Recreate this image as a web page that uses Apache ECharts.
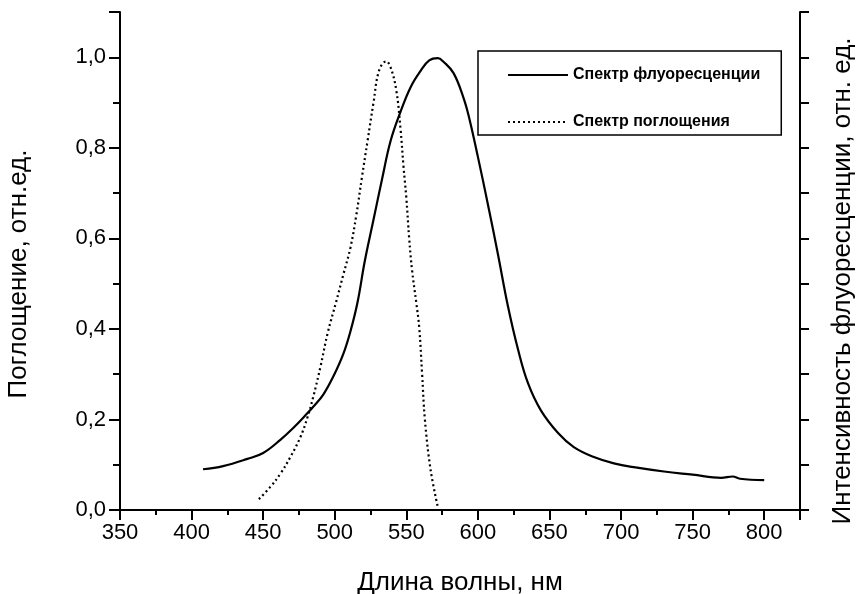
<!DOCTYPE html>
<html>
<head>
<meta charset="utf-8">
<script src="https://cdn.jsdelivr.net/npm/echarts@6/dist/echarts.min.js"></script>
<style>
  html, body { margin: 0; padding: 0; background: #fff; }
  #chart { width: 858px; height: 594px; }
</style>
</head>
<body>
<div id="chart"></div>
<script>
// wavelength (nm) and relative intensity
const fluoWl = [408, 422, 439, 450, 462, 471, 481, 485, 492, 499, 506, 511, 516, 521, 527, 533, 539, 546, 553, 560, 566, 572, 576, 583, 590, 594, 600, 607, 614, 621, 628, 635, 644, 656, 667, 681, 695, 710, 730, 750, 770, 778, 783, 800];
const fluoVal = [0.09, 0.097, 0.113, 0.126, 0.155, 0.181, 0.214, 0.228, 0.255, 0.295, 0.345, 0.395, 0.46, 0.55, 0.64, 0.73, 0.815, 0.88, 0.934, 0.97, 0.993, 0.998, 0.99, 0.965, 0.91, 0.865, 0.78, 0.675, 0.565, 0.45, 0.355, 0.28, 0.22, 0.17, 0.139, 0.117, 0.103, 0.094, 0.085, 0.078, 0.071, 0.074, 0.069, 0.066];

const absWl = [447, 455, 462, 469, 476, 481, 485, 490, 495, 501, 506, 511, 515, 519, 523, 527, 531, 536, 539, 543, 546, 548, 550, 552, 554, 557, 559, 561, 563, 567, 572];
const absVal = [0.024, 0.051, 0.08, 0.117, 0.161, 0.205, 0.25, 0.316, 0.39, 0.46, 0.52, 0.58, 0.65, 0.735, 0.817, 0.898, 0.971, 0.991, 0.978, 0.927, 0.84, 0.76, 0.69, 0.6, 0.53, 0.457, 0.404, 0.302, 0.199, 0.088, 0.007];

const yTicks = ['0,0', '0,2', '0,4', '0,6', '0,8', '1,0'];

const chart = echarts.init(document.getElementById('chart'));

const sans = '"Liberation Sans", Arial, sans-serif';

let option = {
    animation: false,
    backgroundColor: '#fff',
    grid: { left: 120, right: 58, top: 12, bottom: 84, containLabel: false, outerBoundsMode: 'none' },
    legend: {
        orient: 'vertical',
        left: 478,
        top: 51,
        padding: [16, 21, 5, 29],
        itemWidth: 60,
        itemHeight: 14,
        itemGap: 31,
        borderColor: '#000',
        borderWidth: 1.5,
        itemStyle: { opacity: 0 },
        textStyle: { fontFamily: sans, fontWeight: 'bold', fontSize: 16, color: '#000' },
        data: ['Спектр флуоресценции', 'Спектр поглощения']
    },
    xAxis: {
        type: 'value',
        min: 350,
        max: 825,
        interval: 50,
        name: 'Длина волны, нм',
        nameLocation: 'middle',
        nameGap: 60,
        nameTextStyle: { fontFamily: sans, fontSize: 26, color: '#000' },
        axisLine: { show: true, lineStyle: { color: '#000', width: 2 } },
        axisTick: { show: true, length: 10, lineStyle: { color: '#000', width: 2 } },
        minorTick: { show: true, splitNumber: 2, length: 5, lineStyle: { color: '#000', width: 2 } },
        axisLabel: {
            fontFamily: sans, fontSize: 22, color: '#000', margin: 12,
            showMaxLabel: false,
            formatter: v => (v <= 800 ? String(v) : '')
        },
        splitLine: { show: false }
    },
    yAxis: [{
        type: 'value',
        min: 0,
        max: 1.1,
        interval: 0.2,
        position: 'left',
        name: 'Поглощение, отн.ед.',
        nameLocation: 'middle',
        nameRotate: 90,
        nameGap: 88,
        nameTextStyle: { fontFamily: sans, fontSize: 26, color: '#000', padding: [0, 26, 0, 0] },
        axisLine: { show: true, lineStyle: { color: '#000', width: 2 } },
        axisTick: { show: true, length: 11, lineStyle: { color: '#000', width: 2 } },
        minorTick: { show: true, splitNumber: 2, length: 7, lineStyle: { color: '#000', width: 2 } },
        axisLabel: {
            fontFamily: sans, fontSize: 22, color: '#000', margin: 14,
            showMaxLabel: false,
            formatter: v => yTicks[Math.round(v / 0.2)] || ''
        },
        splitLine: { show: false }
    }, {
        type: 'value',
        min: 0,
        max: 1.1,
        interval: 0.1,
        position: 'right',
        name: 'Интенсивность флуоресценции, отн. ед.',
        nameLocation: 'middle',
        nameRotate: 90,
        nameGap: 30,
        nameTextStyle: { fontFamily: sans, fontSize: 26, color: '#000', padding: [0, 40, 0, 0] },
        axisLine: { show: true, lineStyle: { color: '#000', width: 2 } },
        axisTick: { show: true, length: 9, lineStyle: { color: '#000', width: 2 } },
        axisLabel: { show: false },
        splitLine: { show: false }
    }],
    series: [
        {
            name: 'Спектр флуоресценции',
            type: 'line',
            symbol: 'none',
            smooth: 0.4,
            lineStyle: { color: '#000', width: 2.2, type: 'solid' },
            itemStyle: { color: '#000' },
            data: fluoWl.map((w, i) => [w, fluoVal[i]])
        },
        {
            name: 'Спектр поглощения',
            type: 'line',
            symbol: 'none',
            smooth: 0.4,
            lineStyle: { color: '#000', width: 2.2, type: [2, 3] },
            itemStyle: { color: '#000' },
            data: absWl.map((w, i) => [w, absVal[i]])
        }
    ]
};

chart.setOption(option);
</script>
</body>
</html>
